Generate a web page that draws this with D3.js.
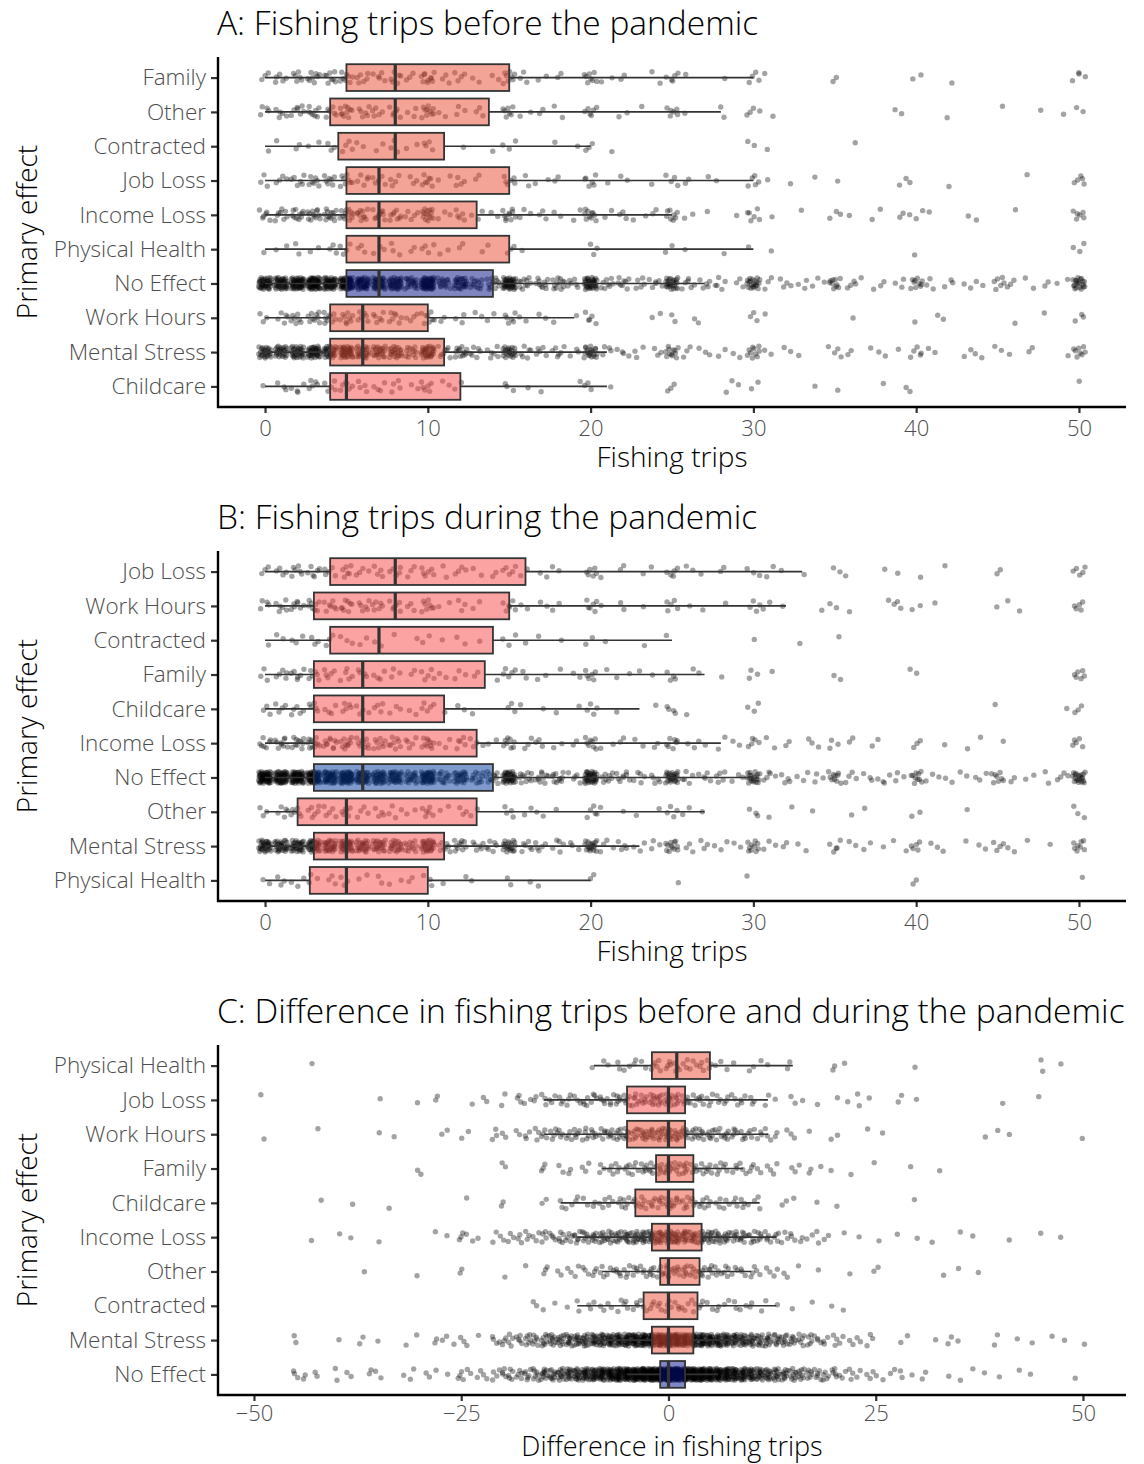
<!DOCTYPE html>
<html>
<head>
<meta charset="utf-8">
<script src="https://cdn.jsdelivr.net/npm/d3@7"></script>
<style>
  body { margin: 0; background: #fff; }
  svg text { font-family: 'Open Sans', 'Roboto', sans-serif; font-weight: 300; }
</style>
</head>
<body>
<svg id="chart" width="1144" height="1464"></svg>
<script>
// ---------------- data ----------------
// box stats: [whisker low, q1, median, q3, whisker high]
// points: [value, count] pairs

const categoriesA = ['Family','Other','Contracted','Job Loss','Income Loss','Physical Health','No Effect','Work Hours','Mental Stress','Childcare'];
const boxA = [
  [0,5,8,15,30],[0,4,8,13.75,28],[0,4.5,8,11,20],[0,5,7,15,30],[0,5,7,13,25],
  [0,5,7,15,30],[0,5,7,14,27],[0,4,6,10,19],[0,4,6,11,21],[0,4,5,12,21]
];
const fillA = ['#e9492f','#e9492f','#e9492f','#e9492f','#e9492f','#e9492f','#000b7d','#e9492f','#e9492f','#f74747'];
const pointsA = [
  [[0,3],[1,5],[2,6],[3,8],[4,8],[5,8],[6,6],[7,5],[8,6],[9,3],[10,10],[11,3],[12,4],[13,2],[14,2],[15,8],[16,3],[17,2],[18,2],[20,8],[21,2],[22,2],[24,2],[25,5],[26,1],[28,1],[30,4],[31,1],[35,2],[40,2],[42,1],[50,4]],
  [[0,4],[1,5],[2,7],[3,8],[4,6],[5,10],[6,6],[7,5],[8,6],[9,3],[10,10],[11,2],[12,3],[13,3],[15,7],[16,2],[17,2],[18,2],[20,6],[22,2],[23,1],[25,6],[26,1],[28,2],[30,4],[31,1],[39,2],[42,1],[45,1],[48,1],[49,1],[50,2]],
  [[0,1],[1,1],[2,2],[3,2],[4,3],[5,4],[6,2],[7,2],[8,3],[9,2],[10,4],[12,1],[14,1],[15,3],[18,1],[19,1],[20,3],[21,1],[30,2],[31,1],[36,1]],
  [[0,3],[1,4],[2,6],[3,7],[4,7],[5,8],[6,5],[7,5],[8,4],[9,3],[10,7],[11,2],[12,4],[13,2],[15,6],[16,2],[17,2],[18,2],[20,6],[21,1],[22,2],[24,1],[25,4],[26,2],[27,1],[28,1],[30,5],[31,1],[32,1],[34,1],[35,1],[39,2],[40,1],[42,1],[47,1],[50,5]],
  [[0,6],[1,8],[2,10],[3,12],[4,12],[5,12],[6,10],[7,9],[8,8],[9,5],[10,14],[11,3],[12,5],[13,3],[14,2],[15,10],[16,3],[17,3],[18,2],[19,2],[20,10],[21,2],[22,3],[23,2],[24,2],[25,8],[26,2],[27,1],[29,1],[30,6],[31,1],[33,1],[35,3],[36,1],[37,1],[38,1],[39,2],[40,3],[41,1],[43,1],[44,1],[46,1],[50,6]],
  [[0,1],[1,2],[2,2],[3,2],[4,3],[5,4],[6,3],[7,3],[8,3],[9,2],[10,4],[11,2],[12,2],[13,1],[14,1],[15,3],[16,1],[20,3],[25,2],[26,1],[28,1],[30,1],[31,1],[40,1],[50,3]],
  [[0,40],[1,40],[2,50],[3,55],[4,45],[5,55],[6,40],[7,35],[8,35],[9,20],[10,50],[11,15],[12,25],[13,12],[14,12],[15,40],[16,10],[17,10],[18,12],[19,6],[20,35],[21,8],[22,8],[23,5],[24,6],[25,25],[26,6],[27,5],[28,5],[29,3],[30,20],[31,3],[32,4],[33,3],[34,3],[35,10],[36,4],[37,2],[38,2],[39,3],[40,10],[41,3],[42,3],[43,2],[44,2],[45,6],[46,3],[47,2],[48,2],[49,2],[50,20]],
  [[0,3],[1,5],[2,7],[3,9],[4,9],[5,9],[6,6],[7,6],[8,7],[9,4],[10,8],[11,2],[12,3],[13,2],[14,2],[15,6],[16,2],[17,2],[18,1],[19,1],[20,5],[24,2],[25,2],[26,1],[27,1],[30,3],[31,1],[36,1],[40,1],[41,1],[42,1],[46,1],[48,1],[50,3]],
  [[0,25],[1,25],[2,30],[3,35],[4,30],[5,35],[6,25],[7,22],[8,22],[9,12],[10,30],[11,8],[12,12],[13,6],[14,6],[15,22],[16,6],[17,5],[18,6],[19,3],[20,20],[21,4],[22,4],[23,3],[24,3],[25,12],[26,3],[27,3],[28,2],[29,2],[30,10],[31,2],[32,2],[33,1],[35,4],[36,2],[37,1],[38,2],[39,1],[40,5],[41,2],[43,2],[44,2],[45,2],[46,1],[47,2],[49,1],[50,8]],
  [[0,1],[1,3],[2,4],[3,5],[4,5],[5,6],[6,4],[7,4],[8,4],[9,2],[10,6],[11,2],[12,2],[15,3],[16,1],[17,1],[19,1],[20,3],[21,1],[25,3],[28,1],[29,2],[30,2],[34,1],[35,1],[38,1],[39,1],[40,1],[50,1]]
];

const categoriesB = ['Job Loss','Work Hours','Contracted','Family','Childcare','Income Loss','No Effect','Other','Mental Stress','Physical Health'];
const boxB = [
  [0,4,8,16,33],[0,3,8,15,32],[0,4,7,14,25],[0,3,6,13.5,27],[0,3,6,11,23],
  [0,3,6,13,28],[0,3,6,14,30],[0,2,5,13,27],[0,3,5,11,23],[0,2.75,5,10,20]
];
const fillB = ['#f74747','#f74747','#f74747','#f74747','#f74747','#f74747','#00379b','#f74747','#f74747','#f74747'];
const pointsB = [
  [[0,3],[1,4],[2,6],[3,6],[4,5],[5,6],[6,4],[7,4],[8,5],[9,3],[10,6],[11,2],[12,4],[13,2],[14,2],[15,5],[16,2],[17,2],[18,2],[20,6],[21,1],[22,2],[23,1],[24,1],[25,5],[26,2],[27,1],[28,2],[30,3],[31,2],[32,1],[33,1],[35,2],[36,1],[38,1],[39,1],[40,1],[42,1],[45,2],[50,5]],
  [[0,4],[1,6],[2,7],[3,8],[4,7],[5,8],[6,6],[7,6],[8,6],[9,3],[10,8],[11,2],[12,3],[13,2],[15,6],[16,2],[17,2],[18,2],[20,6],[21,1],[22,2],[23,1],[25,5],[26,1],[27,1],[28,1],[30,4],[31,2],[32,1],[34,1],[35,2],[36,1],[38,1],[39,3],[40,2],[41,1],[45,1],[46,2],[50,5]],
  [[0,1],[1,2],[2,3],[3,3],[4,3],[5,3],[6,2],[7,2],[8,1],[9,1],[10,2],[11,1],[12,2],[13,1],[15,3],[16,1],[17,1],[18,1],[20,2],[21,1],[23,1],[25,1],[30,1],[33,1],[35,1]],
  [[0,3],[1,5],[2,6],[3,6],[4,5],[5,5],[6,4],[7,4],[8,3],[9,2],[10,5],[11,2],[12,3],[13,2],[14,1],[15,5],[16,2],[17,2],[18,1],[19,2],[20,6],[21,1],[22,2],[23,1],[24,1],[25,4],[26,1],[27,1],[28,1],[30,3],[31,1],[35,2],[40,2],[50,6]],
  [[0,3],[1,4],[2,5],[3,5],[4,4],[5,5],[6,4],[7,4],[8,3],[9,2],[10,5],[11,1],[12,2],[13,1],[15,3],[16,1],[17,1],[18,1],[19,1],[20,4],[22,1],[24,1],[25,4],[26,1],[30,3],[45,1],[49,1],[50,3]],
  [[0,7],[1,9],[2,10],[3,11],[4,10],[5,10],[6,9],[7,8],[8,8],[9,5],[10,10],[11,3],[12,5],[13,4],[14,2],[15,8],[16,3],[17,3],[18,2],[19,2],[20,8],[21,2],[22,2],[23,2],[24,2],[25,7],[26,2],[27,2],[28,2],[29,2],[30,5],[31,2],[32,2],[33,1],[34,2],[35,3],[36,2],[37,1],[38,1],[40,3],[42,1],[43,1],[44,1],[45,1],[50,5]],
  [[0,55],[1,50],[2,55],[3,55],[4,45],[5,50],[6,40],[7,35],[8,35],[9,20],[10,45],[11,15],[12,25],[13,12],[14,12],[15,35],[16,10],[17,10],[18,10],[19,5],[20,35],[21,8],[22,8],[23,5],[24,5],[25,25],[26,5],[27,5],[28,5],[29,3],[30,20],[31,5],[32,4],[33,3],[34,3],[35,10],[36,4],[37,3],[38,4],[39,3],[40,10],[41,3],[42,2],[43,2],[44,3],[45,8],[46,2],[47,2],[48,2],[49,4],[50,20]],
  [[0,3],[1,5],[2,6],[3,6],[4,5],[5,6],[6,4],[7,4],[8,4],[9,2],[10,6],[11,2],[12,3],[13,2],[15,4],[16,2],[17,2],[18,1],[20,5],[21,1],[22,1],[23,1],[24,1],[25,4],[26,2],[27,1],[30,3],[31,1],[32,1],[34,1],[36,1],[37,1],[40,2],[43,1],[50,3]],
  [[0,30],[1,28],[2,30],[3,32],[4,28],[5,32],[6,25],[7,22],[8,20],[9,12],[10,28],[11,8],[12,10],[13,6],[14,6],[15,20],[16,6],[17,5],[18,5],[19,3],[20,18],[21,4],[22,4],[23,3],[24,3],[25,12],[26,3],[27,3],[28,3],[29,2],[30,10],[31,3],[32,2],[33,2],[35,5],[36,2],[37,2],[38,1],[39,2],[40,5],[41,2],[42,1],[43,1],[44,2],[45,4],[46,2],[47,1],[48,1],[50,8]],
  [[0,2],[1,3],[2,3],[3,3],[4,3],[5,3],[6,2],[7,2],[8,2],[9,2],[10,3],[11,1],[12,1],[13,1],[15,2],[16,1],[17,1],[20,2],[25,1],[30,1],[40,2],[50,1]]
];

const categoriesC = ['Physical Health','Job Loss','Work Hours','Family','Childcare','Income Loss','Other','Contracted','Mental Stress','No Effect'];
const boxC = [
  [-9,-2,1,5,15],[-15,-5,0,2,12],[-15,-5,0,2,12],[-8,-1.5,0,3,9],[-13,-4,0,3,11],
  [-11,-2,0,4,13],[-8,-1,0,3.75,10],[-11,-3,0,3.5,13],[-9,-2,0,3,10],[-5,-1,0,2,6]
];
const fillC = ['#eb4b35','#f74747','#e9492f','#eb4b35','#eb4b35','#eb4b35','#eb4b35','#eb4b35','#eb4b35','#000f89'];
const pointsC = [
  [[-43,1],[-9,1],[-8,1],[-7,1],[-6,2],[-5,2],[-4,2],[-3,2],[-2,3],[-1,3],[0,4],[1,4],[2,3],[3,3],[4,3],[5,3],[6,2],[7,1],[8,1],[10,2],[11,1],[12,1],[14,1],[15,1],[20,2],[21,1],[30,1],[45,2],[47,1]],
  [[-49,1],[-35,1],[-30,1],[-28,2],[-24,1],[-22,2],[-20,2],[-18,3],[-17,2],[-16,2],[-15,3],[-14,3],[-13,3],[-12,3],[-11,3],[-10,4],[-9,4],[-8,4],[-7,4],[-6,5],[-5,6],[-4,6],[-3,6],[-2,7],[-1,7],[0,10],[1,6],[2,6],[3,4],[4,4],[5,4],[6,3],[7,3],[8,3],[9,3],[10,3],[12,2],[13,1],[15,2],[16,1],[18,1],[20,1],[22,1],[23,2],[24,1],[28,2],[30,1],[40,1],[45,1]],
  [[-49,1],[-42,1],[-35,1],[-33,1],[-27,2],[-25,1],[-24,1],[-21,3],[-20,2],[-18,2],[-17,3],[-16,3],[-15,4],[-14,4],[-13,4],[-12,4],[-11,5],[-10,5],[-9,5],[-8,5],[-7,6],[-6,6],[-5,7],[-4,7],[-3,8],[-2,8],[-1,8],[0,12],[1,8],[2,8],[3,6],[4,6],[5,6],[6,5],[7,5],[8,5],[9,4],[10,4],[11,3],[12,3],[13,2],[14,1],[15,2],[17,1],[20,2],[24,1],[26,1],[38,1],[40,1],[41,1],[50,1]],
  [[-30,2],[-20,2],[-15,3],[-13,2],[-12,2],[-10,3],[-8,3],[-7,3],[-6,3],[-5,4],[-4,4],[-3,5],[-2,5],[-1,6],[0,8],[1,6],[2,6],[3,5],[4,4],[5,4],[6,4],[7,3],[8,3],[9,3],[10,3],[11,2],[12,2],[13,2],[15,2],[16,1],[17,2],[18,1],[20,1],[22,1],[25,1],[29,1],[33,1]],
  [[-42,1],[-38,1],[-34,1],[-24,1],[-20,2],[-15,2],[-13,2],[-12,2],[-11,2],[-10,2],[-9,2],[-8,3],[-7,3],[-6,3],[-5,4],[-4,4],[-3,5],[-2,5],[-1,5],[0,7],[1,5],[2,5],[3,4],[4,4],[5,3],[6,3],[7,3],[8,3],[9,3],[10,2],[11,2],[14,2],[15,1],[18,1],[20,1],[30,1]],
  [[-43,1],[-40,1],[-38,1],[-35,1],[-28,1],[-27,1],[-25,3],[-24,2],[-23,1],[-21,2],[-20,2],[-19,3],[-18,3],[-17,3],[-16,3],[-15,4],[-14,4],[-13,5],[-12,5],[-11,6],[-10,7],[-9,7],[-8,8],[-7,8],[-6,9],[-5,10],[-4,11],[-3,12],[-2,14],[-1,14],[0,18],[1,14],[2,13],[3,12],[4,11],[5,10],[6,9],[7,8],[8,7],[9,7],[10,6],[11,5],[12,5],[13,4],[14,3],[15,3],[16,2],[17,2],[18,2],[19,2],[21,1],[23,1],[25,1],[28,1],[30,1],[32,1],[35,1],[37,1],[41,1],[45,1],[47,1]],
  [[-37,1],[-30,1],[-25,2],[-20,1],[-17,1],[-15,3],[-13,2],[-12,2],[-11,2],[-10,3],[-9,3],[-8,3],[-7,3],[-6,4],[-5,4],[-4,4],[-3,4],[-2,5],[-1,5],[0,7],[1,6],[2,6],[3,6],[4,5],[5,5],[6,4],[7,4],[8,3],[9,3],[10,3],[11,2],[12,2],[13,2],[14,2],[16,1],[18,1],[22,1],[25,2],[33,1],[35,1],[37,1]],
  [[-16,2],[-15,1],[-14,1],[-12,1],[-11,2],[-10,1],[-9,2],[-8,2],[-7,2],[-6,2],[-5,3],[-4,3],[-3,3],[-2,3],[-1,3],[0,4],[1,3],[2,3],[3,3],[4,3],[5,2],[6,2],[7,2],[8,2],[9,2],[10,2],[11,1],[12,1],[13,1],[15,1],[17,1],[20,1],[21,1]],
  [[-45,2],[-40,1],[-37,2],[-35,1],[-32,1],[-30,1],[-28,2],[-27,2],[-26,1],[-25,2],[-24,1],[-23,1],[-21,3],[-20,4],[-19,4],[-18,5],[-17,6],[-16,6],[-15,8],[-14,9],[-13,10],[-12,11],[-11,12],[-10,13],[-9,15],[-8,16],[-7,18],[-6,20],[-5,22],[-4,25],[-3,28],[-2,30],[-1,32],[0,40],[1,32],[2,30],[3,28],[4,25],[5,22],[6,20],[7,18],[8,16],[9,15],[10,13],[11,11],[12,10],[13,9],[14,8],[15,7],[16,6],[17,5],[18,4],[19,3],[20,3],[21,2],[22,2],[23,2],[24,2],[25,1],[28,1],[29,1],[32,1],[34,2],[35,1],[39,1],[40,1],[42,1],[44,1],[46,1],[48,1],[50,1]],
  [[-45,3],[-44,2],[-43,1],[-42,1],[-40,2],[-39,1],[-38,1],[-36,2],[-35,2],[-32,1],[-31,2],[-29,2],[-28,1],[-27,1],[-25,4],[-24,2],[-23,2],[-22,2],[-21,3],[-20,5],[-19,5],[-18,5],[-17,6],[-16,7],[-15,10],[-14,10],[-13,12],[-12,14],[-11,16],[-10,20],[-9,22],[-8,25],[-7,28],[-6,32],[-5,36],[-4,40],[-3,45],[-2,50],[-1,60],[0,80],[1,60],[2,50],[3,45],[4,40],[5,36],[6,32],[7,28],[8,25],[9,22],[10,20],[11,16],[12,14],[13,12],[14,10],[15,9],[16,8],[17,6],[18,6],[19,5],[20,5],[21,3],[22,3],[23,2],[24,2],[25,2],[26,1],[27,2],[28,2],[29,1],[31,2],[34,1],[35,1],[37,1],[38,1],[40,1],[42,1],[44,1],[49,1]]
];

const ticksAB = [0, 10, 20, 30, 40, 50];
const ticksC = [-50, -25, 0, 25, 50];

// ---------------- drawing ----------------
const svg = d3.select('#chart');
const left = 218, right = 1126;
const FONT = "'Open Sans', 'Roboto', sans-serif";

// low-discrepancy sequence, used only to spread dots like geom_jitter
function halton(i, b) {
  let f = 1, r = 0;
  while (i > 0) { f /= b; r += f * (i % b); i = Math.floor(i / b); }
  return r;
}

function panel(cfg) {
  const top = cfg.top, bottom = cfg.top + 350;
  const g = svg.append('g');

  const x = d3.scaleLinear().domain(cfg.domain).range([left, right]);
  const y = d3.scalePoint().domain(cfg.cats).range([top, bottom]).padding(0.6);
  const half = y.step() * 0.39;

  // title
  g.append('text')
    .attr('x', left - 1).attr('y', top - 22)
    .attr('font-size', 33.5).attr('fill', '#000')
    .text(cfg.title);

  // jittered points
  cfg.cats.forEach((c, ci) => {
    let n = 0;
    cfg.pts[ci].forEach(([v, cnt]) => {
      for (let k = 0; k < cnt; k++) {
        n++;
        const jx = (halton(n + ci * 17, 2) - 0.5) * 2 * cfg.jitter;
        const jy = (halton(n + ci * 17, 3) - 0.5) * 2 * 6;
        g.append('circle')
          .attr('cx', x(v + jx))
          .attr('cy', y(c) + jy)
          .attr('r', 2.7)
          .attr('fill', '#000')
          .attr('fill-opacity', 0.36);
      }
    });
  });

  // boxes
  cfg.cats.forEach((c, ci) => {
    const [lo, q1, md, q3, hi] = cfg.box[ci];
    const cy = y(c);
    g.append('line')
      .attr('x1', x(lo)).attr('x2', x(q1)).attr('y1', cy).attr('y2', cy)
      .attr('stroke', '#333').attr('stroke-width', 1.6);
    g.append('line')
      .attr('x1', x(q3)).attr('x2', x(hi)).attr('y1', cy).attr('y2', cy)
      .attr('stroke', '#333').attr('stroke-width', 1.6);
    g.append('rect')
      .attr('x', x(q1)).attr('y', cy - half)
      .attr('width', x(q3) - x(q1)).attr('height', 2 * half)
      .attr('fill', cfg.fills[ci]).attr('fill-opacity', 0.5)
      .attr('stroke', '#333').attr('stroke-width', 1.8);
    g.append('line')
      .attr('x1', x(md)).attr('x2', x(md)).attr('y1', cy - half).attr('y2', cy + half)
      .attr('stroke', '#333').attr('stroke-width', 3.2);
  });

  // axes
  const xAxis = g.append('g').attr('transform', `translate(0,${bottom})`)
    .call(d3.axisBottom(x).tickValues(cfg.ticks).tickSize(6).tickPadding(cfg.tickPad).tickFormat(d3.format('')));
  const yAxis = g.append('g').attr('transform', `translate(${left},0)`)
    .call(d3.axisLeft(y).tickSize(7).tickPadding(5));
  [xAxis, yAxis].forEach(a => {
    a.select('.domain').remove();
    a.selectAll('.tick line').attr('stroke', '#333').attr('stroke-width', 2.2);
  });
  xAxis.selectAll('.tick text').attr('fill', '#4d4d4d').attr('font-size', 22)
    .style('font-family', FONT).style('font-weight', 300);
  yAxis.selectAll('.tick text').attr('fill', '#4d4d4d').attr('font-size', 22.5)
    .style('font-family', FONT).style('font-weight', 300);

  // axis lines
  g.append('line').attr('x1', left).attr('x2', left).attr('y1', top).attr('y2', bottom + 1)
    .attr('stroke', '#000').attr('stroke-width', 2.4);
  g.append('line').attr('x1', left - 1).attr('x2', right).attr('y1', bottom).attr('y2', bottom)
    .attr('stroke', '#000').attr('stroke-width', 2.4);

  // axis titles
  g.append('text')
    .attr('x', (left + right) / 2).attr('y', bottom + cfg.xTitleDy)
    .attr('text-anchor', 'middle').attr('font-size', cfg.xTitleSize).attr('fill', '#000')
    .text(cfg.xTitle);
  g.append('text')
    .attr('transform', `translate(37,${(top + bottom) / 2}) rotate(-90)`)
    .attr('text-anchor', 'middle').attr('font-size', 28).attr('fill', '#000')
    .text('Primary effect');
}

panel({
  top: 57, title: 'A: Fishing trips before the pandemic',
  cats: categoriesA, box: boxA, fills: fillA, pts: pointsA,
  domain: [-2.89, 52.89], ticks: ticksAB, jitter: 0.4,
  xTitle: 'Fishing trips', xTitleDy: 60, xTitleSize: 28, tickPad: 7
});
panel({
  top: 551, title: 'B: Fishing trips during the pandemic',
  cats: categoriesB, box: boxB, fills: fillB, pts: pointsB,
  domain: [-2.89, 52.89], ticks: ticksAB, jitter: 0.4,
  xTitle: 'Fishing trips', xTitleDy: 60, xTitleSize: 28, tickPad: 7
});
panel({
  top: 1045, title: 'C: Difference in fishing trips before and during the pandemic',
  cats: categoriesC, box: boxC, fills: fillC, pts: pointsC,
  domain: [-54.34, 55.19], ticks: ticksC, jitter: 0.4,
  xTitle: 'Difference in fishing trips', xTitleDy: 61, xTitleSize: 27, tickPad: 4
});
</script>
</body>
</html>
